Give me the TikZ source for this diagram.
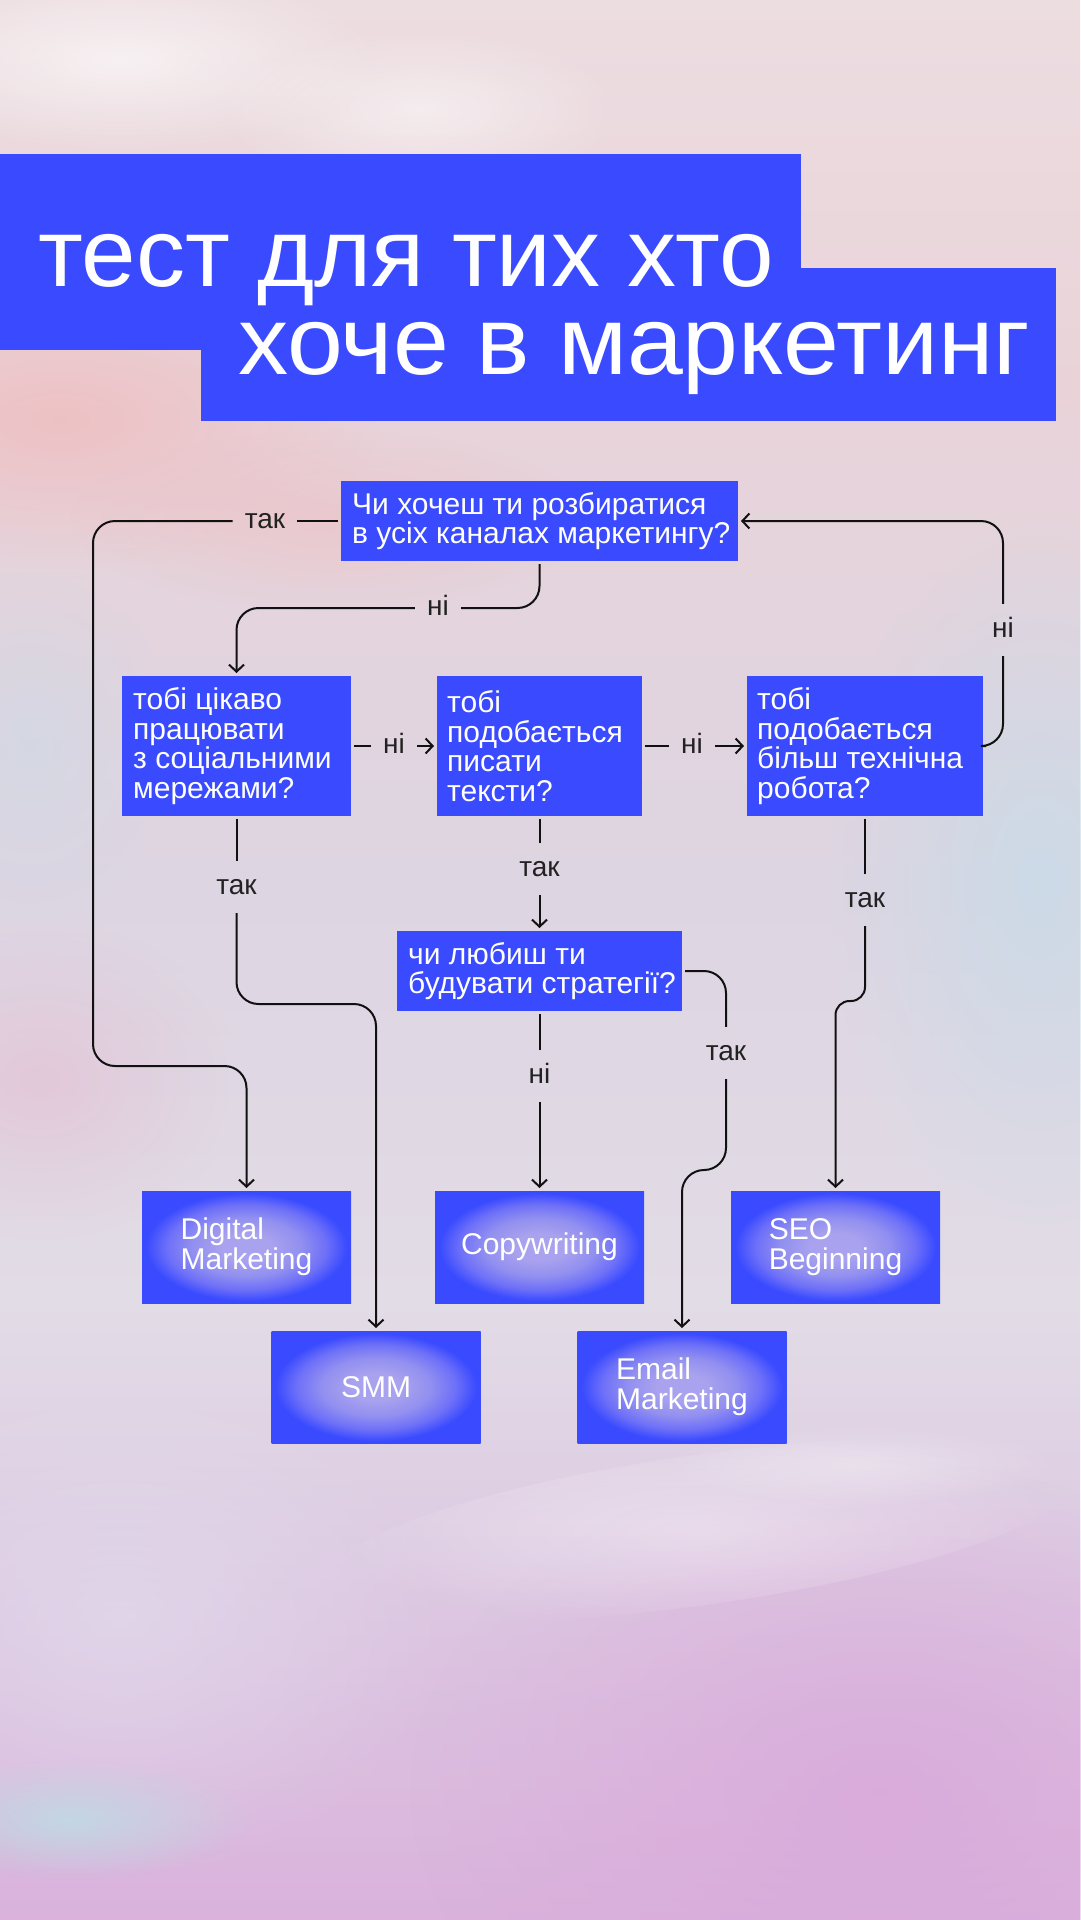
\documentclass[tikz,border=0pt]{standalone}
\usepackage{fontspec}
\usepackage{graphicx}
\setmainfont{Liberation Sans}
\usetikzlibrary{arrows.meta,fadings}
\definecolor{qblue}{HTML}{3A4BFF}
\definecolor{lav}{HTML}{A9A2EE}
\definecolor{lavB}{HTML}{9290F0}
\definecolor{lavC}{HTML}{6E70F8}
\definecolor{linec}{HTML}{111111}
\definecolor{labelc}{HTML}{222222}
\definecolor{bgA}{HTML}{ECDDE1}
\definecolor{bgB}{HTML}{E9D3D9}
\definecolor{bgC}{HTML}{DDD5E2}
\definecolor{bgD}{HTML}{E2DCE6}
\definecolor{bgE}{HTML}{DCC6E1}
\definecolor{bgF}{HTML}{DAB2DC}
\definecolor{salmon}{HTML}{EFBDBF}
\definecolor{skyblue}{HTML}{C6DCE8}
\definecolor{pinkL}{HTML}{E6B9D0}
\definecolor{purpleP}{HTML}{D9A7DA}
\definecolor{cyanL}{HTML}{BCDDE4}
\definecolor{lilac}{HTML}{E2DBEC}
\pgfdeclareverticalshading{sky}{100bp}{color(0bp)=(bgF); color(25bp)=(bgF); color(33bp)=(bgE); color(41bp)=(bgD); color(52bp)=(bgC); color(65bp)=(bgB); color(75bp)=(bgA); color(100bp)=(bgA)}
\pgfdeclareradialshading{boxglow}{\pgfpoint{0bp}{0bp}}{color(0bp)=(lav); color(6bp)=(lav); color(13bp)=(lavB); color(19bp)=(lavC); color(24bp)=(qblue); color(50bp)=(qblue)}
\tikzfading[name=blobfade, inner color=transparent!0, outer color=transparent!100]
\tikzset{
  titlebox/.style={fill=qblue, draw=none, inner sep=0pt, anchor=north west},
  titletext/.style={text=white, inner sep=0pt, anchor=base west, font=\fontsize{97}{100}\selectfont},
  qbox/.style={fill=qblue, draw=none, inner sep=0pt, outer sep=3pt},
  qtext/.style={text=white, align=left, inner sep=0pt, anchor=west, font=\fontsize{30}{29.5}\selectfont},
  rbox/.style={shade, shading=boxglow, draw=none, inner sep=0pt, outer sep=3pt, minimum width=209pt, minimum height=112pt, text=white, align=left, font=\fontsize{30}{30}\selectfont},
  lbl/.style={text=labelc, font=\fontsize{28}{30}\selectfont, text height=15pt, text depth=0pt},
  hlbl/.style={lbl, inner xsep=12pt, inner ysep=0pt},
  vlbl/.style={lbl, inner xsep=0pt, inner ysep=18.5pt},
  conn/.style={draw=linec, line width=2pt, rounded corners=22pt},
  arr/.style={conn, -{Straight Barb[length=7pt,width=15pt]}},
  blob/.style={path fading=blobfade}
}
\begin{document}
\begin{tikzpicture}[x=1pt, y=-1pt]
\useasboundingbox (0,0) rectangle (1080,1920);
% background sky
\shade[shading=sky] (0,0) rectangle (1080,1920);
\fill[white, blob, fill opacity=0.6] (120,60) ellipse [x radius=260pt, y radius=90pt];
\fill[white, blob, fill opacity=0.5] (420,110) ellipse [x radius=200pt, y radius=80pt];
\fill[salmon, blob, fill opacity=0.8] (60,420) ellipse [x radius=320pt, y radius=150pt];
\fill[salmon, blob, fill opacity=0.5] (330,520) ellipse [x radius=260pt, y radius=90pt];
\fill[skyblue, blob, fill opacity=0.75] (1040,880) ellipse [x radius=210pt, y radius=360pt];
\fill[skyblue, blob, fill opacity=0.45] (30,740) ellipse [x radius=140pt, y radius=180pt];
\fill[pinkL, blob, fill opacity=0.5] (40,1080) ellipse [x radius=200pt, y radius=160pt];
\fill[lilac, blob, fill opacity=0.7] (120,1620) ellipse [x radius=330pt, y radius=260pt];
\fill[purpleP, blob, fill opacity=0.75] (880,1790) ellipse [x radius=470pt, y radius=330pt];
\fill[white, blob, fill opacity=0.35, rotate around={8:(700,1530)}] (700,1530) ellipse [x radius=380pt, y radius=75pt];
\fill[white, blob, fill opacity=0.3] (860,1465) ellipse [x radius=200pt, y radius=40pt];
\fill[cyanL, blob, fill opacity=0.8] (70,1820) ellipse [x radius=180pt, y radius=60pt];

% title
\node[titlebox, minimum width=801pt, minimum height=196pt] (tb1) at (0,154) {};
\node[titlebox, minimum width=855pt, minimum height=153pt] (tb2) at (201,268) {};
\node[titletext] (tt1) at (38,286) {\scalebox{1.01}[1]{тест для тих хто}};
\node[titletext] (tt2) at (238,374) {\scalebox{1.035}[1]{хоче в маркетинг}};

% question boxes
\node[qbox, minimum width=397pt, minimum height=80pt] (q1) at (539.5,521) {};
\node[qtext] (q1t) at (352,521) {Чи хочеш ти розбиратися\\в усіх каналах маркетингу?};
\node[qbox, minimum width=229pt, minimum height=140pt] (q2) at (236.5,746) {};
\node[qtext] (q2t) at (133,746) {тобі цікаво\\працювати\\з соціальними\\мережами?};
\node[qbox, minimum width=205pt, minimum height=140pt] (q3) at (539.5,746) {};
\node[qtext] (q3t) at (447,746) {тобі\\подобається\\писати\\тексти?};
\node[qbox, minimum width=236pt, minimum height=140pt] (q4) at (865,746) {};
\node[qtext] (q4t) at (757,746) {тобі\\подобається\\більш технічна\\робота?};
\node[qbox, minimum width=285pt, minimum height=80pt] (q5) at (539.5,971) {};
\node[qtext] (q5t) at (408,971) {чи любиш ти\\будувати стратегії?};

% result boxes
\node[rbox] (dm) at (246.5,1247) {Digital\\Marketing};
\node[rbox] (cw) at (539.5,1247) {Copywriting};
\node[rbox] (seo) at (835.5,1247) {SEO\\Beginning};
\node[rbox] (smm) at (376,1387) {SMM};
\node[rbox] (em) at (682,1387) {Email\\Marketing};

% labels
\node[hlbl] (lt1) at (265,521) {так};
\node[hlbl] (ln1) at (438,608) {ні};
\node[hlbl] (ln2) at (394,746) {ні};
\node[hlbl] (ln3) at (692,746) {ні};
\node[vlbl] (ln4) at (1003,630) {ні};
\node[vlbl] (lt2) at (236.5,887) {так};
\node[vlbl] (lt3) at (539.5,869) {так};
\node[vlbl] (ln5) at (539.5,1076) {ні};
\node[vlbl] (lt5) at (726,1053) {так};
\node[vlbl] (lt4) at (865,900) {так};

% bend coordinates
\coordinate (k1) at (93,1066);
\coordinate (k6) at (376,1004);
\coordinate (k9) at (682,1170);
\coordinate (k10) at (835.5,1001);

% connectors
\draw[conn] (q1.west) -- (lt1.east);
\draw[arr] (lt1.west) -| (k1) -| (dm.north);
\draw[conn] (q1.south) |- (ln1.east);
\draw[arr] (ln1.west) -| (q2.north);
\draw[conn] (q2.east) -- (ln2.west);
\draw[arr] (ln2.east) -- (q3.west);
\draw[conn] (q3.east) -- (ln3.west);
\draw[arr] (ln3.east) -- (q4.west);
\draw[conn] (q4.east) -| (ln4.south);
\draw[arr] (ln4.north) |- (q1.east);
\draw[conn] (q2.south) -- (lt2.north);
\draw[arr] (lt2.south) |- (k6) -- (smm.north);
\draw[conn] (q3.south) -- (lt3.north);
\draw[arr] (lt3.south) -- (q5.north);
\draw[conn] (q5.south) -- (ln5.north);
\draw[arr] (ln5.south) -- (cw.north);
\draw[conn] (q5.east) -| (lt5.north);
\draw[arr] (lt5.south) |- (k9) -- (em.north);
\draw[conn] (q4.south) -- (lt4.north);
\draw[arr, rounded corners=14pt] (lt4.south) |- (k10) -- (seo.north);
\end{tikzpicture}
\end{document}
